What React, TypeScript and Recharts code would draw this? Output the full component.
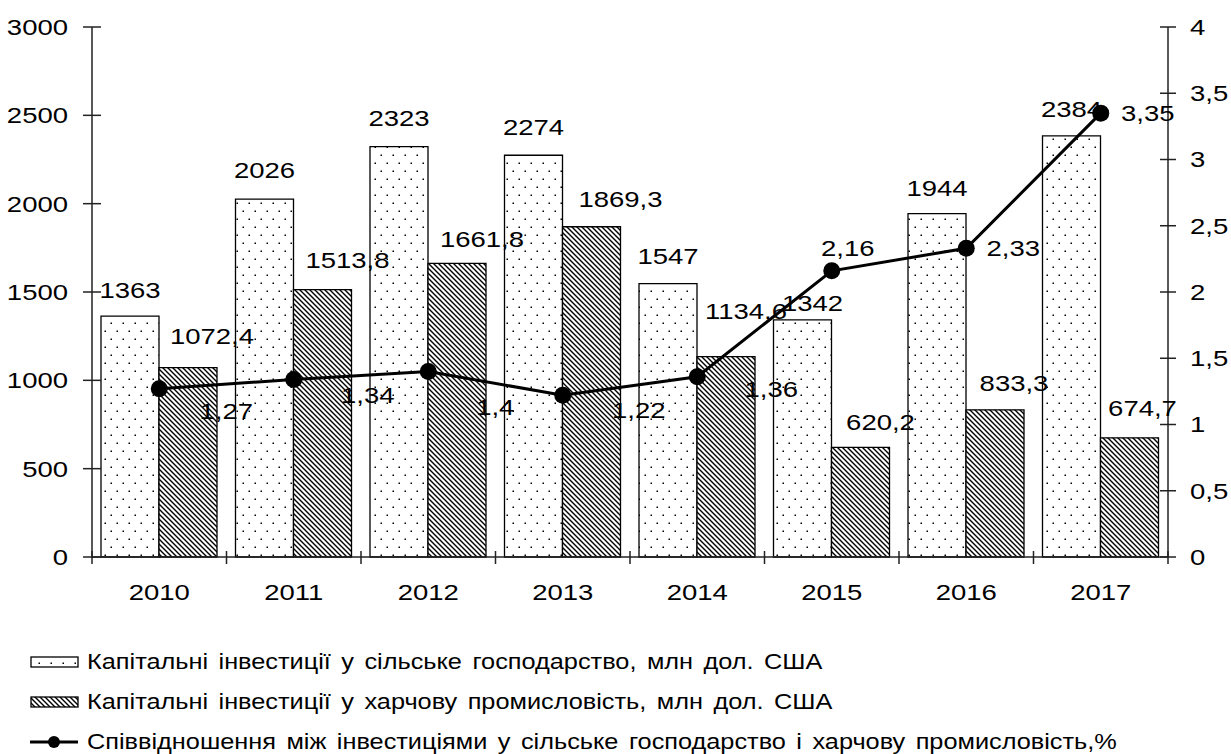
import React from 'react';
import { ComposedChart, Bar, Line, XAxis, YAxis, LabelList, Legend } from 'recharts';

const years = ['2010', '2011', '2012', '2013', '2014', '2015', '2016', '2017'];
const agriInvest = [1363, 2026, 2323, 2274, 1547, 1342, 1944, 2384];
const foodInvest = [1072.4, 1513.8, 1661.8, 1869.3, 1134.6, 620.2, 833.3, 674.7];
const ratio = [1.27, 1.34, 1.4, 1.22, 1.36, 2.16, 2.33, 3.35];
const leftTicks = [0, 500, 1000, 1500, 2000, 2500, 3000];
const rightTicks = [0, 0.5, 1, 1.5, 2, 2.5, 3, 3.5, 4];

const seriesNames = [
  'Капітальні інвестиції у сільське господарство, млн дол. США',
  'Капітальні інвестиції у харчову промисловість, млн дол. США',
  'Співвідношення між інвестиціями у сільське господарство і харчову промисловість,%',
];

// label nudges [dx, dy] relative to mark
const agriNudge = [[0, -26], [0, -29], [0, -29], [0, -28], [0, -28], [10, -17], [0, -26], [0, -27]];
const foodNudge = [[24, -31], [25, -30], [25, -24], [29, -28], [20, -46], [20, -25], [19, -27], [13, -30]];
const ratioNudge = [[67, 22], [74, 16], [67, 36], [76, 15], [74, 12], [16, -23], [47, 0], [47, 0]];

const data = years.map((y, i) => ({
  year: y,
  agri: agriInvest[i],
  food: foodInvest[i],
  ratio: ratio[i],
}));

const W = 1231;
const H = 754;
const PLOT_LEFT = 92;
const PLOT_RIGHT = 1168;
const PLOT_TOP = 27;
const PLOT_BOTTOM = 557;
const BAND = (PLOT_RIGHT - PLOT_LEFT) / years.length;
const FONT = '"Liberation Sans", Arial, sans-serif';
const FS = 22;
const SX = 1.25;

const fmt = (v: number) => String(v).replace('.', ',');

const T = ({ x, y, anchor, children }: any) => (
  <text
    transform={`translate(${x},${y}) scale(${SX},1)`}
    textAnchor={anchor}
    dominantBaseline="central"
    fontFamily={FONT}
    fontSize={FS}
    fill="#000"
  >
    {children}
  </text>
);

const LeftTick = (props: any) => {
  const { y, payload } = props;
  return (
    <g>
      <line x1={PLOT_LEFT - 9} x2={PLOT_LEFT + 9} y1={y} y2={y} stroke="#222" strokeWidth={1.5} />
      <T x={PLOT_LEFT - 24} y={y} anchor="end">{payload.value}</T>
    </g>
  );
};

const RightTick = (props: any) => {
  const { y, payload } = props;
  return (
    <g>
      <line x1={PLOT_RIGHT - 8} x2={PLOT_RIGHT + 8} y1={y} y2={y} stroke="#222" strokeWidth={1.5} />
      <T x={PLOT_RIGHT + 22} y={y} anchor="start">{fmt(payload.value)}</T>
    </g>
  );
};

const XTick = (props: any) => {
  const { x, payload, index } = props;
  const last = index === years.length - 1;
  return (
    <g>
      <line x1={x - BAND / 2} x2={x - BAND / 2} y1={PLOT_BOTTOM - 6} y2={PLOT_BOTTOM + 7} stroke="#222" strokeWidth={1.5} />
      {last && <line x1={x + BAND / 2} x2={x + BAND / 2} y1={PLOT_BOTTOM - 6} y2={PLOT_BOTTOM + 7} stroke="#222" strokeWidth={1.5} />}
      <T x={x} y={PLOT_BOTTOM + 35} anchor="middle">{payload.value}</T>
    </g>
  );
};

const barLabel = (nudge: number[][]) => (props: any) => {
  const { x, y, width, value, index } = props;
  const [dx, dy] = nudge[index] || [0, -28];
  return <T x={x + width / 2 + dx} y={y + dy} anchor="middle">{fmt(value)}</T>;
};

const lineLabel = (props: any) => {
  const { x, y, value, index } = props;
  const [dx, dy] = ratioNudge[index] || [0, 0];
  return <T x={x + dx} y={y + dy} anchor="middle">{fmt(value)}</T>;
};

const LegendContent = () => (
  <div style={{ fontFamily: FONT, fontSize: FS, color: '#000', lineHeight: '40px' }}>
    {seriesNames.map((name, i) => (
      <div key={i} style={{ display: 'flex', alignItems: 'center', height: 40, whiteSpace: 'nowrap' }}>
        <svg width={50} height={20} style={{ marginRight: 7, flex: 'none' }}>
          {i === 0 && <rect x={1} y={5} width={47} height={10} fill="url(#dots)" stroke="#000" strokeWidth={1.3} />}
          {i === 1 && <rect x={1} y={5} width={47} height={10} fill="url(#hatch)" stroke="#000" strokeWidth={1.3} />}
          {i === 2 && (
            <g>
              <line x1={0} x2={48} y1={10} y2={10} stroke="#000" strokeWidth={3} />
              <circle cx={24} cy={10} r={6} fill="#000" />
            </g>
          )}
        </svg>
        <span style={{ wordSpacing: 3, display: 'inline-block', transform: 'scaleX(1.15)', transformOrigin: 'left center' }}>{name}</span>
      </div>
    ))}
  </div>
);

export default function App() {
  return (
    <div style={{ position: 'absolute', left: 0, top: 0, width: W, height: H, background: '#fff' }}>
      <ComposedChart
        width={W}
        height={H}
        data={data}
        margin={{ top: PLOT_TOP, right: 0, left: 0, bottom: H - PLOT_BOTTOM - 60 }}
        barGap={0}
      >
        <defs>
          <pattern id="dots" patternUnits="userSpaceOnUse" width={12} height={16}>
            <rect width={12} height={16} fill="#fff" />
            <rect x={2.5} y={2.5} width={1.5} height={1.5} fill="#000" />
            <rect x={8.5} y={10.5} width={1.5} height={1.5} fill="#000" />
          </pattern>
          <pattern id="hatch" patternUnits="userSpaceOnUse" width={5} height={5}>
            <rect width={5} height={5} fill="#fff" />
            <path d="M-1,-1 L6,6 M-1,4 L1,6 M4,-1 L6,1" stroke="#000" strokeWidth={1.4} />
          </pattern>
        </defs>
        <XAxis
          dataKey="year"
          height={60}
          axisLine={{ stroke: '#222', strokeWidth: 1.5 }}
          tickLine={false}
          tick={<XTick />}
          interval={0}
        />
        <YAxis
          yAxisId="left"
          orientation="left"
          width={PLOT_LEFT}
          domain={[0, 3000]}
          ticks={leftTicks}
          axisLine={{ stroke: '#222', strokeWidth: 1.5 }}
          tickLine={false}
          tick={<LeftTick />}
          interval={0}
        />
        <YAxis
          yAxisId="right"
          orientation="right"
          width={W - PLOT_RIGHT}
          domain={[0, 4]}
          ticks={rightTicks}
          axisLine={{ stroke: '#222', strokeWidth: 1.5 }}
          tickLine={false}
          tick={<RightTick />}
          interval={0}
        />
        <Legend
          layout="vertical"
          align="center"
          verticalAlign="middle"
          content={<LegendContent />}
          wrapperStyle={{ left: 30, top: 642, width: 1150, height: 120 }}
        />
        <Bar yAxisId="left" dataKey="agri" name={seriesNames[0]} barSize={58} fill="url(#dots)" stroke="#000" strokeWidth={1.3} isAnimationActive={false}>
          <LabelList dataKey="agri" content={barLabel(agriNudge)} />
        </Bar>
        <Bar yAxisId="left" dataKey="food" name={seriesNames[1]} barSize={58} fill="url(#hatch)" stroke="#000" strokeWidth={1.3} isAnimationActive={false}>
          <LabelList dataKey="food" content={barLabel(foodNudge)} />
        </Bar>
        <Line
          yAxisId="right"
          dataKey="ratio"
          name={seriesNames[2]}
          stroke="#000"
          strokeWidth={3}
          dot={{ r: 8.5, fill: '#000', stroke: '#000', strokeWidth: 0 }}
          activeDot={false}
          isAnimationActive={false}
        >
          <LabelList dataKey="ratio" content={lineLabel} />
        </Line>
      </ComposedChart>
    </div>
  );
}
